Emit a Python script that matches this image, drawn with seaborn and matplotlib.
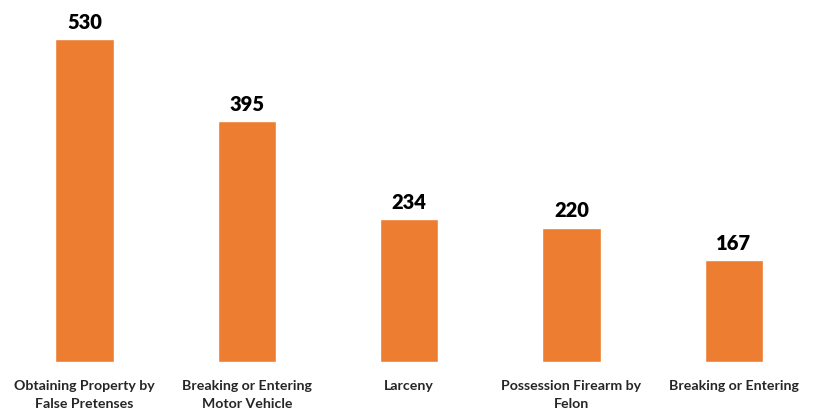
import seaborn as sns
import matplotlib.pyplot as plt
import pandas as pd

# chart data
categories = ['Obtaining Property by\nFalse Pretenses', 'Breaking or Entering\nMotor Vehicle',
              'Larceny', 'Possession Firearm by\nFelon', 'Breaking or Entering']
counts = [530, 395, 234, 220, 167]

df = pd.DataFrame({'category': categories, 'count': counts})

sns.set_style("white")
plt.rcParams['font.family'] = ['Lato', 'DejaVu Sans']

fig = plt.figure(figsize=(8.15, 4.1), dpi=100)
ax = fig.add_axes([0.004, 0.115, 0.996, 0.885])

sns.barplot(data=df, x='category', y='count', color='#ED7D31', saturation=1,
            width=0.36, ax=ax)

for i, v in enumerate(counts):
    ax.text(i, v + 14, str(v), ha='center', va='bottom',
            fontsize=14.5, fontweight='heavy', color='black')

ax.set_ylim(0, 596)
ax.set_xlim(-0.5, 4.5)
ax.set_xlabel('')
ax.set_ylabel('')
ax.set_yticks([])
ax.tick_params(axis='x', length=0, pad=12, labelsize=10.2)
for lab in ax.get_xticklabels():
    lab.set_fontweight('bold')
    lab.set_linespacing(1.65)
sns.despine(ax=ax, left=True, bottom=True)

fig.savefig('out.png', dpi=100, facecolor='white')
